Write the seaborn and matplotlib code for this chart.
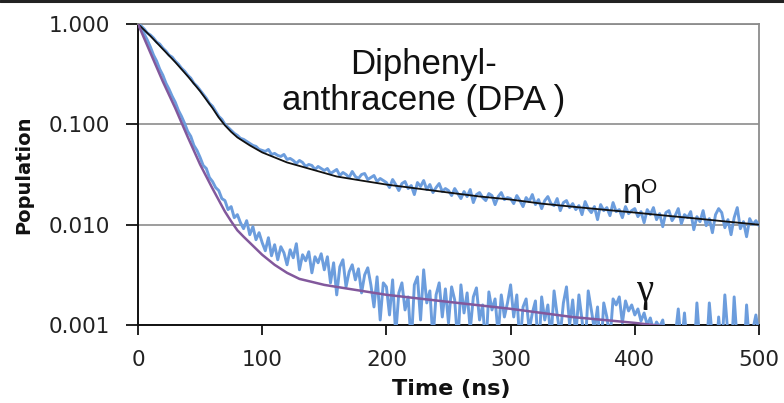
import numpy as np
import pandas as pd
import matplotlib
matplotlib.use("Agg")
import matplotlib.pyplot as plt
from matplotlib.lines import Line2D
from matplotlib.ticker import FixedLocator, FuncFormatter, NullLocator
import seaborn as sns

# measured decays, sampled every 2.5 ns, values stored as log10(population)
time_ns = np.arange(0, 500.1, 2.5)

no_log10 = [
    0.00, -0.02, -0.05, -0.09, -0.11, -0.14, -0.18, -0.20, -0.24, -0.27,
    -0.31, -0.33, -0.37, -0.40, -0.44, -0.47, -0.51, -0.54, -0.59, -0.62,
    -0.66, -0.70, -0.74, -0.79, -0.82, -0.87, -0.92, -0.95, -1.00, -1.03,
    -1.06, -1.09, -1.11, -1.14, -1.15, -1.17, -1.19, -1.21, -1.22, -1.25,
    -1.26, -1.27, -1.25, -1.30, -1.29, -1.31, -1.32, -1.30, -1.35, -1.34,
    -1.36, -1.39, -1.36, -1.38, -1.42, -1.40, -1.41, -1.45, -1.42, -1.44,
    -1.46, -1.44, -1.49, -1.47, -1.45, -1.51, -1.48, -1.50, -1.53, -1.47,
    -1.52, -1.54, -1.50, -1.49, -1.55, -1.53, -1.51, -1.57, -1.54, -1.56,
    -1.58, -1.63, -1.55, -1.60, -1.66, -1.59, -1.57, -1.64, -1.61, -1.70,
    -1.58, -1.62, -1.56, -1.65, -1.60, -1.68, -1.63, -1.59, -1.67, -1.64,
    -1.66, -1.71, -1.64, -1.69, -1.74, -1.67, -1.72, -1.65, -1.78, -1.70,
    -1.68, -1.73, -1.76, -1.69, -1.71, -1.80, -1.72, -1.68, -1.75, -1.73,
    -1.74, -1.79, -1.71, -1.76, -1.82, -1.73, -1.77, -1.70, -1.80, -1.75,
    -1.84, -1.76, -1.72, -1.79, -1.81, -1.74, -1.86, -1.78, -1.76, -1.83,
    -1.79, -1.85, -1.81, -1.90, -1.77, -1.84, -1.88, -1.82, -1.95, -1.80,
    -1.86, -1.83, -1.91, -1.78, -1.87, -1.85, -1.93, -1.82, -1.89, -1.86,
    -1.84, -1.92, -1.87, -1.98, -1.85, -1.90, -1.83, -1.95, -1.89, -2.02,
    -1.88, -1.86, -1.96, -1.91, -1.84, -1.99, -1.90, -1.93, -1.87, -2.05,
    -1.92, -1.97, -1.86, -2.01, -1.94, -2.08, -1.90, -1.84, -1.88, -2.03,
    -1.95, -2.10, -1.93, -1.83, -2.04, -1.97, -2.12, -1.94, -2.00, -1.96,
    -2.01,
]

gamma_log10 = [
    0.00, -0.04, -0.10, -0.16, -0.23, -0.31, -0.37, -0.45, -0.51, -0.59,
    -0.65, -0.72, -0.78, -0.86, -0.92, -0.99, -1.07, -1.12, -1.21, -1.26,
    -1.33, -1.41, -1.44, -1.53, -1.57, -1.63, -1.66, -1.74, -1.76, -1.85,
    -1.82, -1.93, -1.90, -1.98, -2.04, -1.96, -2.10, -2.02, -2.15, -2.08,
    -2.18, -2.26, -2.13, -2.31, -2.20, -2.35, -2.22, -2.28, -2.40, -2.25,
    -2.33, -2.19, -2.45, -2.30, -2.36, -2.27, -2.48, -2.32, -2.38, -2.29,
    -2.45, -2.32, -2.58, -2.38, -2.70, -2.42, -2.35, -2.62, -2.47, -2.40,
    -2.55, -2.44, -2.68, -2.50, -2.43, -2.60, -2.82, -2.52, -2.95, -2.58,
    -2.62, -2.90, -2.55, -3.10, -2.68, -2.58, -2.85, -2.72, -3.20, -2.60,
    -2.52, -2.95, -2.45, -2.78, -2.66, -3.15, -2.70, -2.58, -2.92, -2.64,
    -2.98, -2.62, -2.75, -3.20, -2.60, -2.88, -2.68, -3.05, -2.72, -2.63,
    -2.95, -2.80, -3.25, -2.67, -2.85, -2.74, -3.10, -2.70, -2.92, -2.78,
    -2.60, -2.92, -2.70, -3.20, -2.82, -2.74, -3.05, -2.88, -2.76, -3.30,
    -2.72, -2.95, -2.80, -3.15, -2.66, -2.90, -3.10, -2.78, -2.62, -3.00,
    -2.75, -3.10, -2.70, -2.95, -3.25, -2.66, -2.85, -3.05, -2.82, -3.30,
    -2.78, -2.92, -3.15, -2.74, -2.80, -2.72, -2.98, -2.76, -2.86, -2.80,
    -2.90, -2.84, -2.96, -2.88, -3.00, -2.93, -3.05, -2.97, -3.02, -2.95,
    -3.15, -3.08, -3.30, -3.12, -2.84, -3.20, -2.88, -3.25, -3.10, -3.35,
    -2.78, -3.20, -3.05, -3.30, -2.78, -3.15, -3.40, -2.92, -3.25, -2.70,
    -3.10, -3.35, -2.72, -3.18, -3.05, -3.40, -2.80, -3.22, -3.05, -2.90,
    -3.10,
]

# fitted curves (population)
fit_time_no = [0, 10, 20, 30, 40, 50, 60, 65, 70, 75, 80, 90, 100, 120, 140, 160,
               180, 200, 225, 250, 275, 300, 325, 350, 375, 400, 425, 450, 475, 500]
fit_no = [1.0, 0.759, 0.562, 0.417, 0.302, 0.214, 0.145, 0.117, 0.0977, 0.0841,
          0.0741, 0.0617, 0.0525, 0.0417, 0.0355, 0.0302, 0.0275, 0.0251, 0.0229,
          0.0209, 0.0191, 0.0178, 0.0162, 0.0151, 0.0141, 0.0132, 0.0123, 0.0115,
          0.0107, 0.0100]

fit_time_gamma = [0, 10, 20, 30, 40, 50, 60, 70, 75, 80, 85, 90, 100, 110, 120,
                  130, 140, 150, 170, 200, 250, 300, 350, 400, 450, 500]
fit_gamma = [1.0, 0.516, 0.267, 0.145, 0.075, 0.0398, 0.0229, 0.0135, 0.0108,
             0.00879, 0.00759, 0.00661, 0.00501, 0.00398, 0.00331, 0.00288,
             0.00269, 0.00251, 0.00229, 0.00200, 0.00170, 0.00145, 0.00120,
             0.00105, 0.00089, 0.00078]

y_ticks = [0.001, 0.01, 0.1, 1.0]
x_ticks = [0, 100, 200, 300, 400, 500]

BLUE = "#6c9ddd"
PURPLE = "#82589c"

sns.set_style("white")
plt.rcParams["font.family"] = ["DejaVu Sans"]

fig = plt.figure(figsize=(7.84, 4.03), dpi=100)
ax = fig.add_axes([138 / 784, 1 - 325 / 403, 621 / 784, 301 / 403])

measured = pd.DataFrame({
    "t": time_ns,
    "no": 10.0 ** np.array(no_log10),
    "gamma": 10.0 ** np.array(gamma_log10),
})

sns.lineplot(data=measured, x="t", y="no", ax=ax, color=BLUE, linewidth=2.1,
             estimator=None, sort=False, zorder=3)
sns.lineplot(data=measured, x="t", y="gamma", ax=ax, color=BLUE, linewidth=2.1,
             estimator=None, sort=False, zorder=3)
sns.lineplot(x=fit_time_no, y=fit_no, ax=ax, color="#111111", linewidth=1.3,
             estimator=None, sort=False, zorder=4)
sns.lineplot(x=fit_time_gamma, y=fit_gamma, ax=ax, color=PURPLE, linewidth=1.8,
             estimator=None, sort=False, zorder=4)

ax.set_yscale("log")
ax.set_xlim(0, 500)
ax.set_ylim(0.001, 1.0)
ax.yaxis.set_major_locator(FixedLocator(y_ticks))
ax.yaxis.set_minor_locator(NullLocator())
ax.yaxis.set_major_formatter(FuncFormatter(lambda v, p: f"{v:.3f}"))
ax.xaxis.set_major_locator(FixedLocator(x_ticks))

ax.grid(axis="y", color="#8c8c8c", linewidth=1.2)
ax.grid(axis="x", visible=False)
for side in ["top", "right"]:
    ax.spines[side].set_color("#8c8c8c")
    ax.spines[side].set_linewidth(1.3)
for side in ["left", "bottom"]:
    ax.spines[side].set_color("#111111")
    ax.spines[side].set_linewidth(1.4)

ax.tick_params(axis="y", direction="out", length=9, width=1.3, color="#111111",
               labelsize=15.5, pad=11, labelcolor="#222222", left=True)
ax.tick_params(axis="x", direction="out", length=7, width=1.3, color="#111111",
               labelsize=15.5, pad=11, labelcolor="#222222", bottom=True)

ax.set_xlabel("Time (ns)", fontsize=16, fontweight="bold", color="#111111")
ax.set_ylabel("Population", fontsize=14, fontweight="bold", color="#111111")
ax.xaxis.set_label_coords(0.504, -0.18)
ax.yaxis.set_label_coords(-0.168, 0.5)

ax.text(230, 0.139, "Diphenyl-\nanthracene (DPA )", ha="center", va="baseline",
        fontsize=25, family="Liberation Sans", linespacing=1.1, color="#111111")
ax.text(390, 0.0164, "n", ha="left", va="baseline", fontsize=25,
        family="Liberation Sans", color="#111111")
ax.text(405, 0.0207, "O", ha="left", va="baseline", fontsize=15,
        family="Liberation Sans", color="#111111")
ax.text(407.5, 0.00218, "γ", ha="center", va="center", fontsize=28,
        family="Liberation Serif", color="#111111")

fig.add_artist(Line2D([0, 1], [1 - 1.2 / 403] * 2, transform=fig.transFigure,
                      color="#222222", linewidth=2.2))

fig.savefig("out.png", dpi=100)
